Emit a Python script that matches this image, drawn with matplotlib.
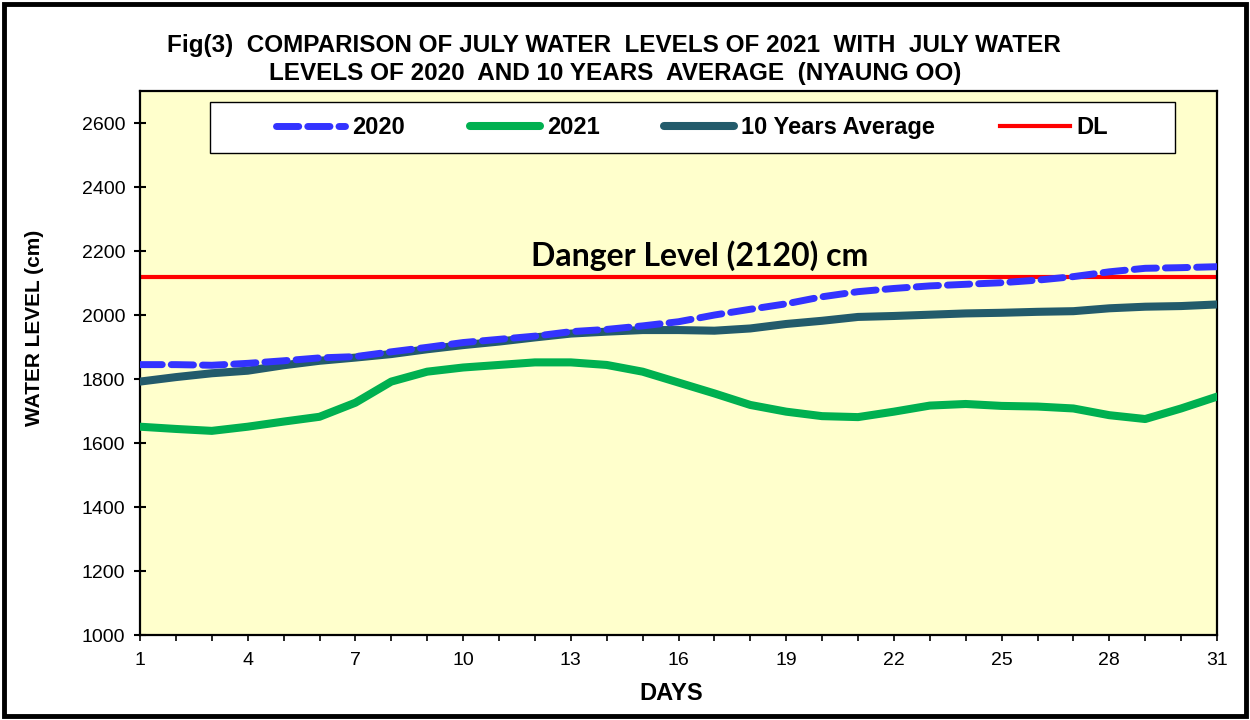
import numpy as np
import matplotlib.pyplot as plt
from matplotlib.patches import Rectangle

days = np.arange(1, 32)

level_2020 = [1845, 1845, 1843, 1849, 1857, 1866, 1870, 1885, 1899, 1914,
              1924, 1934, 1948, 1955, 1966, 1979, 2000, 2018, 2035, 2057,
              2073, 2083, 2091, 2096, 2101, 2109, 2120, 2135, 2146, 2148, 2151]

level_2021 = [1651, 1644, 1638, 1651, 1667, 1682, 1726, 1792, 1823, 1836,
              1844, 1852, 1852, 1844, 1823, 1789, 1755, 1719, 1698, 1684,
              1681, 1698, 1717, 1722, 1716, 1714, 1708, 1687, 1675, 1708, 1745]

level_avg = [1792, 1806, 1818, 1826, 1843, 1857, 1867, 1878, 1893, 1906,
             1917, 1930, 1942, 1948, 1953, 1953, 1951, 1958, 1972, 1982,
             1994, 1997, 2001, 2005, 2007, 2010, 2012, 2021, 2026, 2028, 2033]

danger_level = 2120

plt.rcParams['font.family'] = ['Liberation Sans', 'DejaVu Sans']

fig = plt.figure(figsize=(12.5, 7.2), dpi=100)
ax = fig.add_axes([0.112, 0.118, 0.8616, 0.7556])
ax.set_facecolor('#FFFFCC')

ax.plot(days, level_2020, color='#3333FF', lw=5, linestyle=(0, (3.2, 1.3)),
        dash_capstyle='round', label='2020', zorder=4)
ax.plot(days, level_2021, color='#00B050', lw=5.8, solid_capstyle='round',
        solid_joinstyle='round', label='2021', zorder=3)
ax.plot(days, level_avg, color='#235B6B', lw=5.8, solid_capstyle='round',
        solid_joinstyle='round', label='10 Years Average', zorder=3)
ax.axhline(danger_level, color='#FF0000', lw=3, label='DL', zorder=2)

ax.text(16.6, danger_level + 16, 'Danger Level (2120) cm', ha='center', va='bottom',
        fontsize=23, fontweight='bold', family=['Lato', 'DejaVu Sans'])

ax.set_xlim(1, 31)
ax.set_ylim(1000, 2700)
ax.set_yticks(np.arange(1000, 2601, 200))
ax.set_xticks(np.arange(1, 32, 3))
ax.set_xticks(days, minor=True)
ax.tick_params(axis='y', direction='inout', length=9, width=1.5, labelsize=14, pad=6)
ax.tick_params(axis='x', which='both', direction='out', length=4, width=1.2,
               labelsize=14, pad=8)
for sp in ax.spines.values():
    sp.set_linewidth(1.6)

# legend box drawn separately so the entries can sit centred inside it
ax.add_patch(Rectangle((0.065, 0.886), 0.896, 0.094, transform=ax.transAxes,
                       facecolor='white', edgecolor='black', lw=1.0, zorder=5))
leg = ax.legend(ncol=4, loc='center', bbox_to_anchor=(0.5125, 0.933), frameon=False,
                handlelength=2.95, handletextpad=0.3, columnspacing=2.75,
                prop={'weight': 'bold', 'size': 17})
leg.set_zorder(6)

fig.text(0.491, 0.937, 'Fig(3)  COMPARISON OF JULY WATER  LEVELS OF 2021  WITH  JULY WATER',
         ha='center', va='center', fontsize=17.5, fontweight='bold')
fig.text(0.492, 0.898, 'LEVELS OF 2020  AND 10 YEARS  AVERAGE  (NYAUNG OO)',
         ha='center', va='center', fontsize=17.5, fontweight='bold')

fig.text(0.028, 1 - 328 / 720, 'WATER LEVEL (cm)', rotation=90, ha='center', va='center',
         fontsize=15, fontweight='bold')
fig.text(0.537, 1 - 694 / 720, 'DAYS', ha='center', va='center',
         fontsize=17, fontweight='bold')

fig.patches.append(Rectangle((0.003, 0.005), 0.994, 0.989, transform=fig.transFigure,
                             fill=False, edgecolor='black', lw=3.5))

plt.savefig('out.png', dpi=100)
plt.close()
